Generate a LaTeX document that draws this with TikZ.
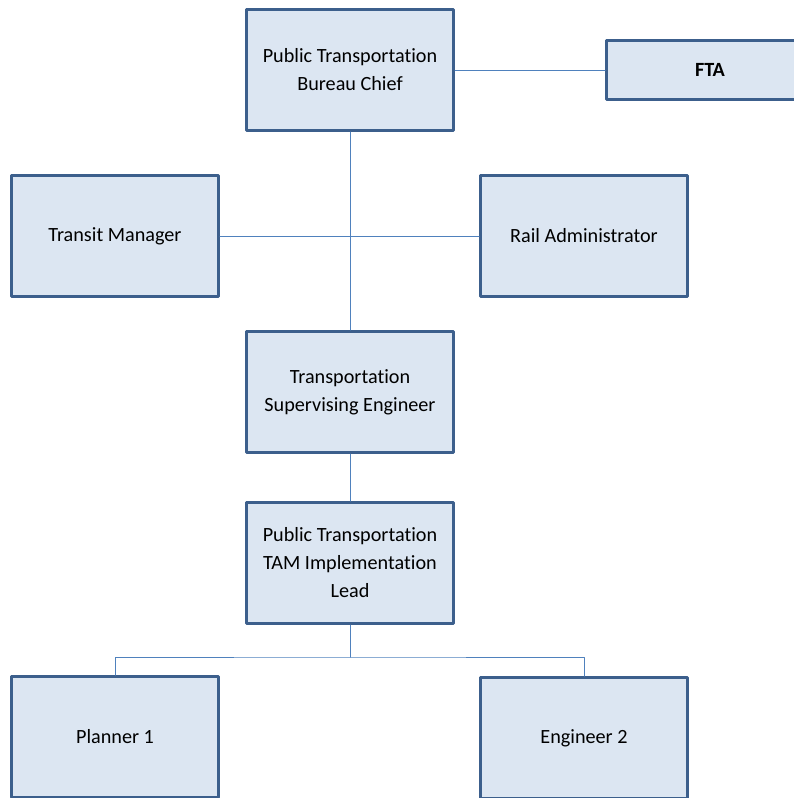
\documentclass[tikz,border=0pt]{standalone}
\usepackage{fontspec}
\setmainfont{Carlito}[Ligatures=NoCommon]
\definecolor{boxfill}{RGB}{220,230,242}
\definecolor{boxline}{RGB}{60,95,140}
\definecolor{linkline}{RGB}{79,129,189}
\tikzset{
    post/.style={draw=boxline, line width=3pt, fill=boxfill, minimum width=207pt,
        minimum height=121pt, align=center, inner sep=0pt,
        font=\fontsize{20.2}{28}\selectfont},
    link/.style={draw=linkline, line width=1pt}
}

\begin{document}
\begin{tikzpicture}[line cap=round,line join=round,x=1pt,y=-1pt]
    \useasboundingbox (0,0) rectangle (793,798);
    
    \node[post] (chief) at (350,70) {Public Transportation\\Bureau Chief};
    \node[post, minimum height=59pt] (fta) at (710,70) {\textbf{FTA}};
    \node[post] (transit) at (115,236) {Transit Manager};
    \node[post] (rail) at (584,236) {Rail Administrator};
    \node[post] (super) at (350,392) {Transportation\\Supervising Engineer};
    \node[post] (lead) at (350,563) {Public Transportation\\TAM Implementation\\Lead};
    \node[post] (planner) at (115,737) {Planner 1};
    \node[post] (engineer) at (584,738) {Engineer 2};
    \coordinate (fork) at (350,657);
    
    \draw[link] (chief.east) -- (fta.west);
    \draw[link] (chief.south) -- (super.north);
    \draw[link] (transit.east) -- (rail.west);
    \draw[link] (super.south) -- (lead.north);
    \draw[link] (lead.south) -- (fork);
    \draw[link] (planner.north) |- (fork) -| (engineer.north);
\end{tikzpicture}
\end{document}
